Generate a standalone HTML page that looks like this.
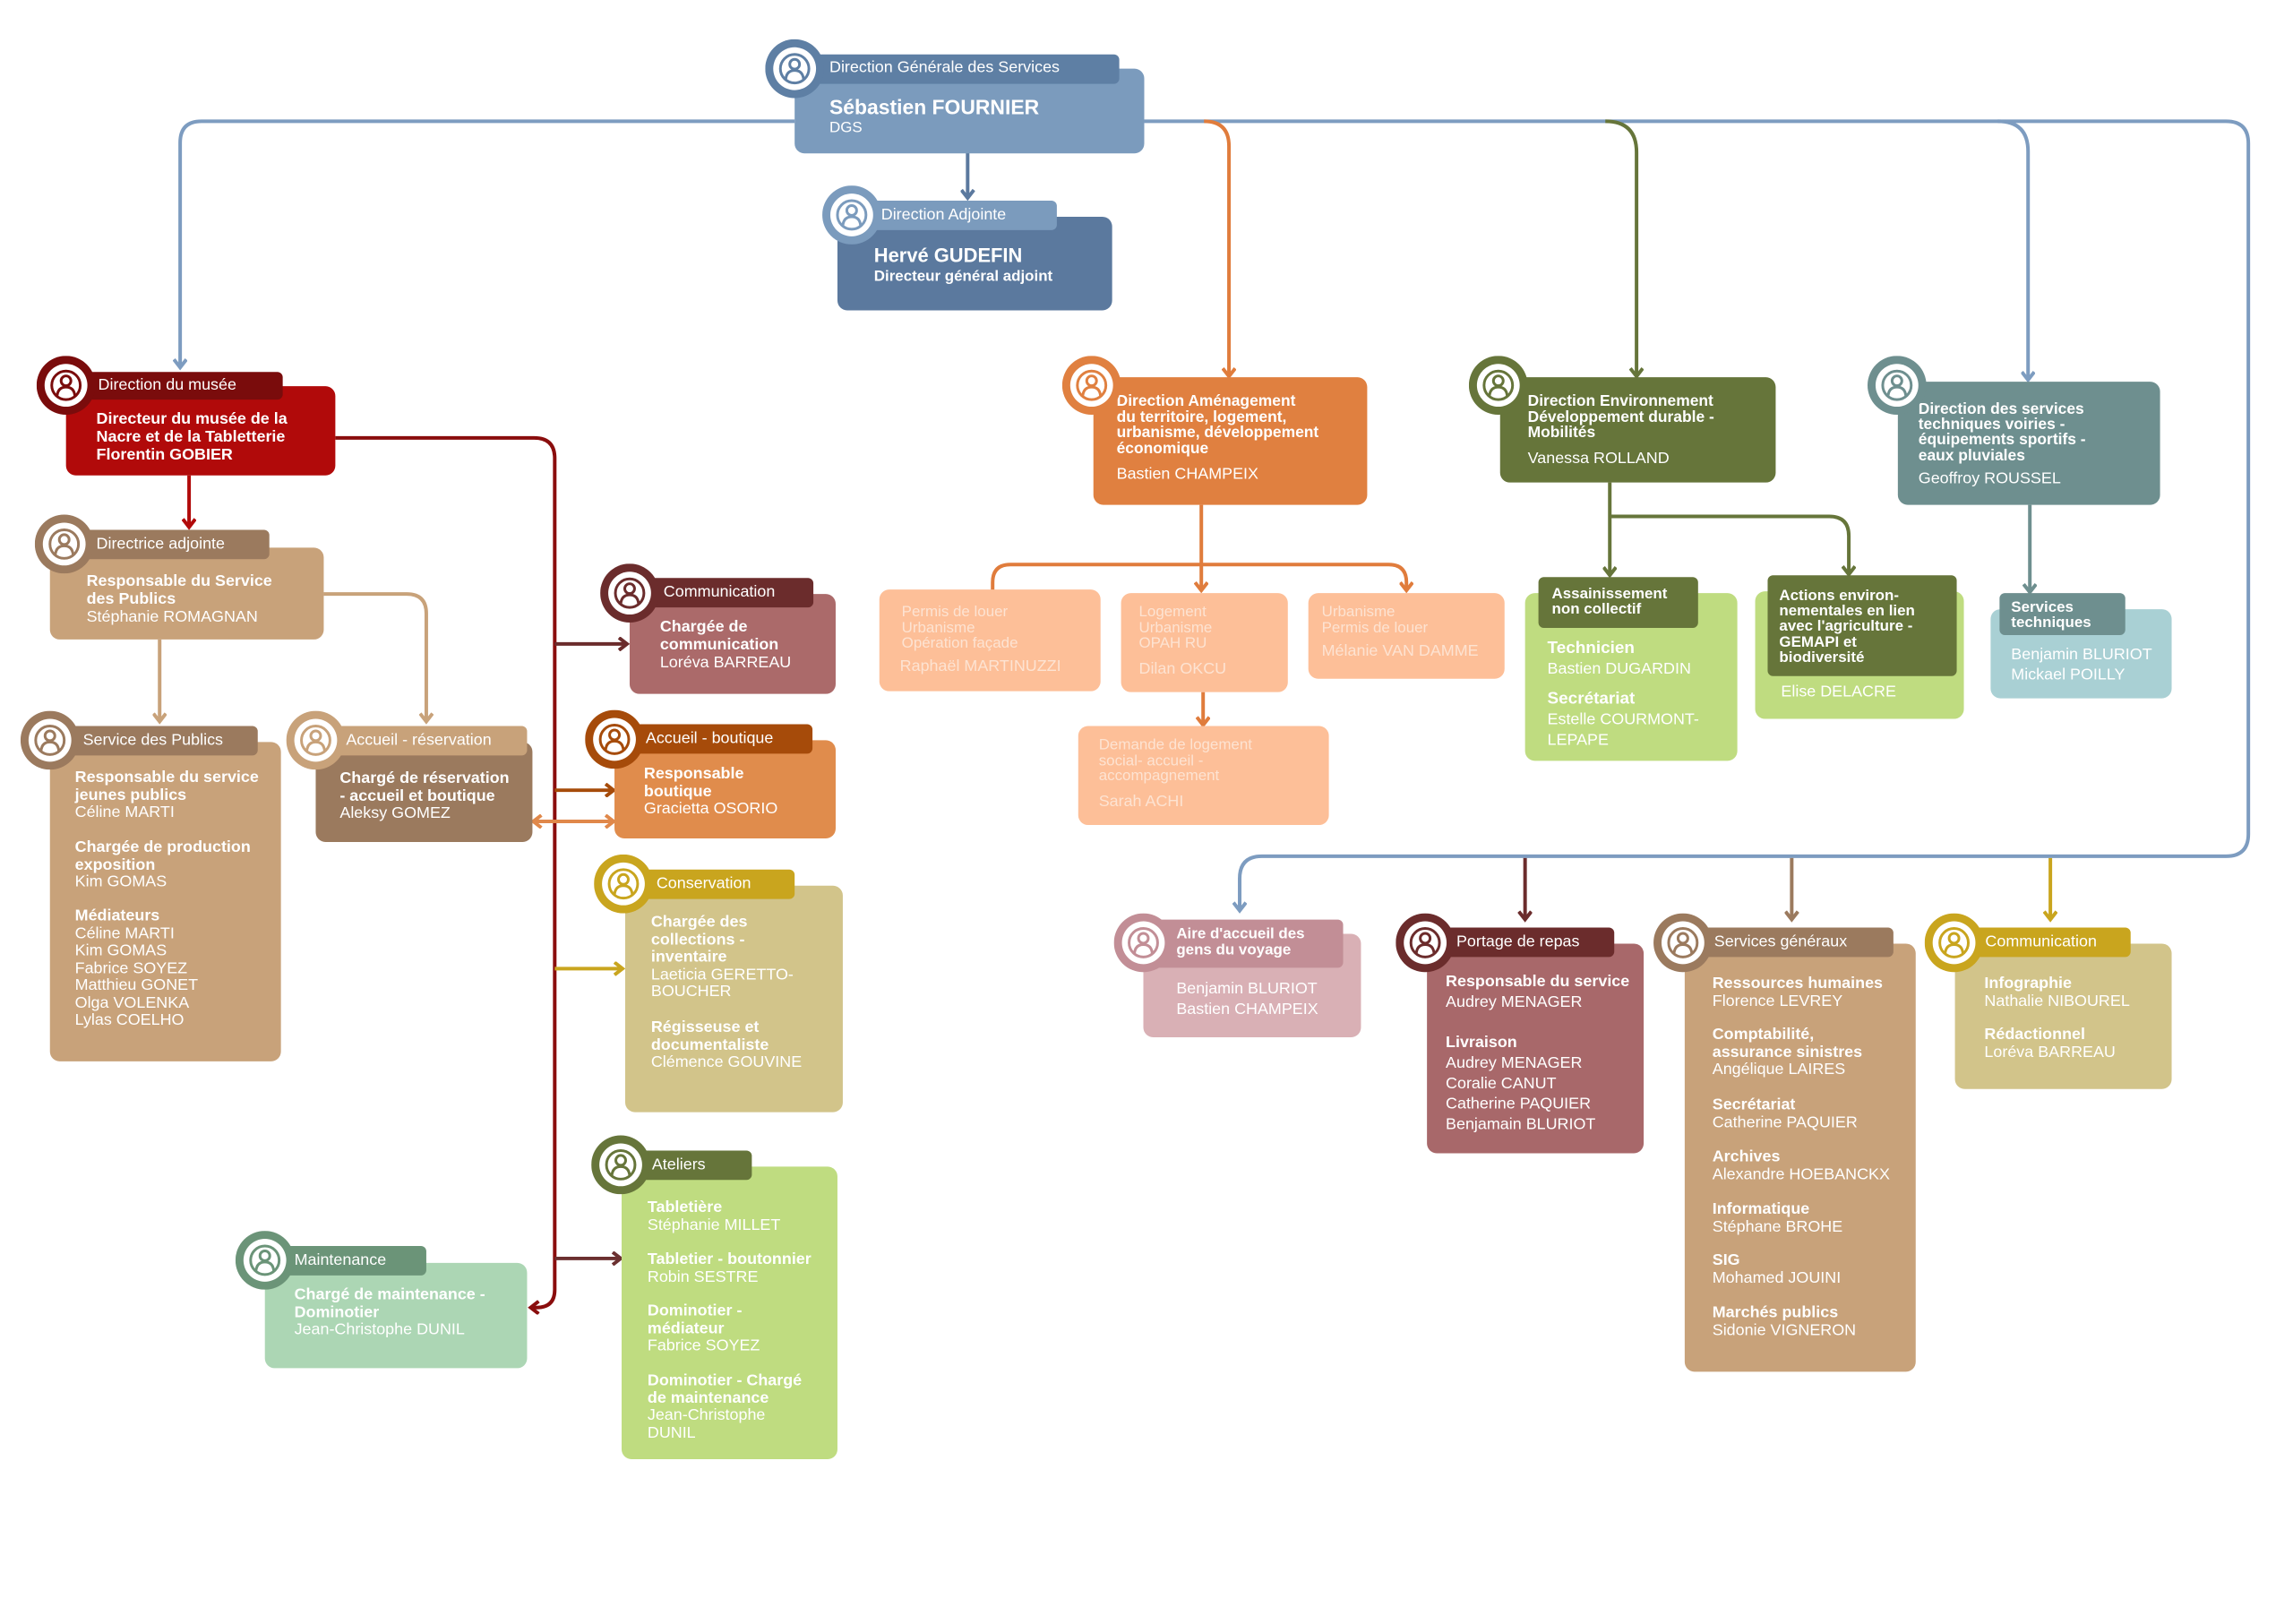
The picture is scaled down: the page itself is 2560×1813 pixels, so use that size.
<!DOCTYPE html>
<html><head><meta charset="utf-8"><style>
body{margin:0;background:#fff;}
#w{position:relative;width:2560px;height:1813px;overflow:hidden;background:#fff;font-family:"Liberation Sans",sans-serif;}
#in{position:absolute;left:0;top:0;width:2560px;height:1813px;transform:scale(0.9957);transform-origin:0 0;}
.b{position:absolute;border-radius:11px;z-index:1;}
.t{position:absolute;z-index:3;color:#fff;font-size:18px;line-height:19px;white-space:nowrap;}
.t b{font-weight:bold;}
.pe{color:#fde3d2;}
svg{position:absolute;left:0;top:0;}
</style></head><body><div id="w"><div id="in">
<svg width="2560" height="1813" style="z-index:0">
<defs>
<marker id="mB" markerWidth="16" markerHeight="16" refX="12" refY="8" orient="auto-start-reverse" markerUnits="userSpaceOnUse"><path d="M3,1 L12,8 L3,15" fill="none" stroke="#7d9cc0" stroke-width="4"/></marker>
<marker id="mDB" markerWidth="16" markerHeight="16" refX="12" refY="8" orient="auto" markerUnits="userSpaceOnUse"><path d="M3,1 L12,8 L3,15" fill="none" stroke="#5b799e" stroke-width="4"/></marker>
<marker id="mR" markerWidth="16" markerHeight="16" refX="12" refY="8" orient="auto" markerUnits="userSpaceOnUse"><path d="M3,1 L12,8 L3,15" fill="none" stroke="#b10a0a" stroke-width="4"/></marker>
<marker id="mDR" markerWidth="16" markerHeight="16" refX="12" refY="8" orient="auto" markerUnits="userSpaceOnUse"><path d="M3,1 L12,8 L3,15" fill="none" stroke="#8a0d0d" stroke-width="4"/></marker>
<marker id="mT" markerWidth="16" markerHeight="16" refX="12" refY="8" orient="auto" markerUnits="userSpaceOnUse"><path d="M3,1 L12,8 L3,15" fill="none" stroke="#c8a27a" stroke-width="4"/></marker>
<marker id="mM" markerWidth="16" markerHeight="16" refX="12" refY="8" orient="auto" markerUnits="userSpaceOnUse"><path d="M3,1 L12,8 L3,15" fill="none" stroke="#6b2c2c" stroke-width="4"/></marker>
<marker id="mBr" markerWidth="16" markerHeight="16" refX="12" refY="8" orient="auto" markerUnits="userSpaceOnUse"><path d="M3,1 L12,8 L3,15" fill="none" stroke="#a64b0a" stroke-width="4"/></marker>
<marker id="mO" markerWidth="16" markerHeight="16" refX="12" refY="8" orient="auto-start-reverse" markerUnits="userSpaceOnUse"><path d="M3,1 L12,8 L3,15" fill="none" stroke="#e0884a" stroke-width="4"/></marker>
<marker id="mA" markerWidth="16" markerHeight="16" refX="12" refY="8" orient="auto" markerUnits="userSpaceOnUse"><path d="M3,1 L12,8 L3,15" fill="none" stroke="#e07c3c" stroke-width="4"/></marker>
<marker id="mG" markerWidth="16" markerHeight="16" refX="12" refY="8" orient="auto" markerUnits="userSpaceOnUse"><path d="M3,1 L12,8 L3,15" fill="none" stroke="#c9a51e" stroke-width="4"/></marker>
<marker id="mV" markerWidth="16" markerHeight="16" refX="12" refY="8" orient="auto" markerUnits="userSpaceOnUse"><path d="M3,1 L12,8 L3,15" fill="none" stroke="#66753a" stroke-width="4"/></marker>
<marker id="mTe" markerWidth="16" markerHeight="16" refX="12" refY="8" orient="auto" markerUnits="userSpaceOnUse"><path d="M3,1 L12,8 L3,15" fill="none" stroke="#6e8f8f" stroke-width="4"/></marker>
<marker id="mS" markerWidth="16" markerHeight="16" refX="12" refY="8" orient="auto" markerUnits="userSpaceOnUse"><path d="M3,1 L12,8 L3,15" fill="none" stroke="#9b7a5e" stroke-width="4"/></marker>
<marker id="mM2" markerWidth="16" markerHeight="16" refX="12" refY="8" orient="auto" markerUnits="userSpaceOnUse"><path d="M3,1 L12,8 L3,15" fill="none" stroke="#6b3030" stroke-width="4"/></marker>
</defs>
<g fill="none" stroke-width="4">
<path d="M891 136 H226 Q202 136 202 160 V412" stroke="#7d9cc0" marker-end="url(#mB)"/>
<path d="M1283 136 H2496 Q2521 136 2521 161 V935 Q2521 960 2496 960 H1415 Q1390 960 1390 985 V1021" stroke="#7d9cc0" marker-end="url(#mB)"/>
<path d="M2240 136 Q2274 136 2274 170 V426" stroke="#7d9cc0" marker-end="url(#mB)"/>
<path d="M1350 136 Q1378 136 1378 164 V422" stroke="#e07c3c" marker-end="url(#mA)"/>
<path d="M1800 136 Q1835 136 1835 171 V422" stroke="#66753a" marker-end="url(#mV)"/>
<path d="M1085 164 V222" stroke="#5b799e" marker-end="url(#mDB)"/>
<path d="M1710 962 V1031" stroke="#6b2c2c" marker-end="url(#mM)"/>
<path d="M2009 962 V1031" stroke="#9b7a5e" marker-end="url(#mS)"/>
<path d="M2299 962 V1031" stroke="#c9a51e" marker-end="url(#mG)"/>
<path d="M376 491 H599 Q622 491 622 514 V1446 Q622 1466 602 1466 H595" stroke="#8a0d0d" marker-end="url(#mDR)"/>
<path d="M622 722 H703" stroke="#6b2c2c" marker-end="url(#mM)"/>
<path d="M622 886 H688" stroke="#a64b0a" marker-end="url(#mBr)"/>
<path d="M598 921 H688" stroke="#e0884a" marker-start="url(#mO)" marker-end="url(#mO)"/>
<path d="M622 1086 H698" stroke="#c9a51e" marker-end="url(#mG)"/>
<path d="M622 1411 H696" stroke="#6b3030" marker-end="url(#mM2)"/>
<path d="M212 533 V591" stroke="#b10a0a" marker-end="url(#mR)"/>
<path d="M179 717 V809" stroke="#c8a27a" marker-end="url(#mT)"/>
<path d="M363 666 H456 Q478 666 478 688 V809" stroke="#c8a27a" marker-end="url(#mT)"/>
<path d="M1347 566 V662" stroke="#e07c3c" marker-end="url(#mA)"/>
<path d="M1113 662 V653 Q1113 633 1133 633 H1557 Q1577 633 1577 653 V662" stroke="#e07c3c" marker-end="url(#mA)"/>
<path d="M1349 776 V813" stroke="#e07c3c" marker-end="url(#mA)"/>
<path d="M1805 541 V645" stroke="#66753a" marker-end="url(#mV)"/>
<path d="M1805 579 H2051 Q2073 579 2073 601 V644" stroke="#66753a" marker-end="url(#mV)"/>
<path d="M2276 566 V664" stroke="#6e8f8f" marker-end="url(#mTe)"/>
</g>
</svg>

<!-- DGS -->
<div class="b" style="left:891px;top:77px;width:392px;height:95px;background:#7b9bbd"></div>
<div class="b" style="left:899px;top:61px;width:356px;height:33px;background:#5e7fa4;border-radius:6px;z-index:2"></div>
<div class="t" style="left:930px;top:66px;font-size:18px">Direction Générale des Services</div>
<div class="t" style="left:930px;top:107px;font-size:23px;line-height:26px;font-weight:bold">Sébastien FOURNIER</div>
<div class="t" style="left:930px;top:133px;font-size:17px">DGS</div>
<!-- Adjointe -->
<div class="b" style="left:939px;top:243px;width:308px;height:105px;background:#5b799e"></div>
<div class="b" style="left:965px;top:225px;width:220px;height:33px;background:#7b9bbd;border-radius:6px;z-index:2"></div>
<div class="t" style="left:988px;top:231px">Direction Adjointe</div>
<div class="t" style="left:980px;top:274px;font-size:22px;line-height:26px;font-weight:bold">Hervé GUDEFIN</div>
<div class="t" style="left:980px;top:300px;font-size:17px;font-weight:bold">Directeur général adjoint</div>

<!-- Musee -->
<div class="b" style="left:74px;top:433px;width:302px;height:100px;background:#b10a0a"></div>
<div class="b" style="left:90px;top:417px;width:227px;height:31px;background:#7a0c0c;border-radius:6px;z-index:2"></div>
<div class="t" style="left:110px;top:422px">Direction du musée</div>
<div class="t" style="left:108px;top:459px;line-height:20px;font-weight:bold">Directeur du musée de la<br>Nacre et de la Tabletterie<br>Florentin GOBIER</div>

<!-- Directrice -->
<div class="b" style="left:56px;top:614px;width:307px;height:103px;background:#c8a27a"></div>
<div class="b" style="left:90px;top:594px;width:212px;height:33px;background:#9b7a5e;border-radius:6px;z-index:2"></div>
<div class="t" style="left:108px;top:600px">Directrice adjointe</div>
<div class="t" style="left:97px;top:641px;line-height:20px"><b>Responsable du Service<br>des Publics</b><br>Stéphanie ROMAGNAN</div>

<!-- Service des Publics -->
<div class="b" style="left:56px;top:832px;width:259px;height:358px;background:#c8a27a"></div>
<div class="b" style="left:69px;top:814px;width:220px;height:33px;background:#9b7a5e;border-radius:6px;z-index:2"></div>
<div class="t" style="left:93px;top:820px">Service des Publics</div>
<div class="t" style="left:84px;top:862px;line-height:19.5px"><b>Responsable du service<br>jeunes publics</b><br>Céline MARTI</div>
<div class="t" style="left:84px;top:940px;line-height:19.5px"><b>Chargée de production<br>exposition</b><br>Kim GOMAS</div>
<div class="t" style="left:84px;top:1017px;line-height:19.5px"><b>Médiateurs</b><br>Céline MARTI<br>Kim GOMAS<br>Fabrice SOYEZ<br>Matthieu GONET<br>Olga VOLENKA<br>Lylas COELHO</div>

<!-- Accueil reservation -->
<div class="b" style="left:354px;top:832px;width:243px;height:112px;background:#9b7a5e"></div>
<div class="b" style="left:364px;top:814px;width:227px;height:33px;background:#c8a27a;border-radius:6px;z-index:2"></div>
<div class="t" style="left:388px;top:820px">Accueil - réservation</div>
<div class="t" style="left:381px;top:863px;line-height:19.5px"><b>Chargé de réservation<br>- accueil et boutique</b><br>Aleksy GOMEZ</div>

<!-- Communication musee -->
<div class="b" style="left:706px;top:666px;width:231px;height:112px;background:#ab6a6a"></div>
<div class="b" style="left:719px;top:648px;width:193px;height:33px;background:#6b2c2c;border-radius:6px;z-index:2"></div>
<div class="t" style="left:744px;top:654px">Communication</div>
<div class="t" style="left:740px;top:692px;line-height:20px"><b>Chargée de<br>communication</b><br>Loréva BARREAU</div>

<!-- Accueil boutique -->
<div class="b" style="left:689px;top:830px;width:248px;height:110px;background:#e08c4c"></div>
<div class="b" style="left:702px;top:812px;width:209px;height:33px;background:#a64b0a;border-radius:6px;z-index:2"></div>
<div class="t" style="left:724px;top:818px">Accueil - boutique</div>
<div class="t" style="left:722px;top:858px;line-height:19.5px"><b>Responsable<br>boutique</b><br>Gracietta OSORIO</div>

<!-- Conservation -->
<div class="b" style="left:701px;top:993px;width:244px;height:254px;background:#d2c48a"></div>
<div class="b" style="left:712px;top:975px;width:179px;height:33px;background:#c9a51e;border-radius:6px;z-index:2"></div>
<div class="t" style="left:736px;top:981px">Conservation</div>
<div class="t" style="left:730px;top:1024px;line-height:19.5px"><b>Chargée des<br>collections -<br>inventaire</b><br>Laeticia GERETTO-<br>BOUCHER</div>
<div class="t" style="left:730px;top:1142px;line-height:19.5px"><b>Régisseuse et<br>documentaliste</b><br>Clémence GOUVINE</div>

<!-- Ateliers -->
<div class="b" style="left:697px;top:1308px;width:242px;height:328px;background:#bfdc80"></div>
<div class="b" style="left:709px;top:1290px;width:134px;height:33px;background:#66753a;border-radius:6px;z-index:2"></div>
<div class="t" style="left:731px;top:1296px">Ateliers</div>
<div class="t" style="left:726px;top:1344px;line-height:19.5px"><b>Tabletière</b><br>Stéphanie MILLET</div>
<div class="t" style="left:726px;top:1402px;line-height:19.5px"><b>Tabletier - boutonnier</b><br>Robin SESTRE</div>
<div class="t" style="left:726px;top:1460px;line-height:19.5px"><b>Dominotier -<br>médiateur</b><br>Fabrice SOYEZ</div>
<div class="t" style="left:726px;top:1538px;line-height:19.5px"><b>Dominotier - Chargé<br>de maintenance</b><br>Jean-Christophe<br>DUNIL</div>

<!-- Maintenance -->
<div class="b" style="left:297px;top:1416px;width:294px;height:118px;background:#acd6b4"></div>
<div class="b" style="left:308px;top:1397px;width:170px;height:33px;background:#6b9478;border-radius:6px;z-index:2"></div>
<div class="t" style="left:330px;top:1403px">Maintenance</div>
<div class="t" style="left:330px;top:1442px;line-height:19.5px"><b>Chargé de maintenance -<br>Dominotier</b><br>Jean-Christophe DUNIL</div>

<!-- Amenagement -->
<div class="b" style="left:1226px;top:423px;width:307px;height:143px;background:#e08040"></div>
<div class="t" style="left:1252px;top:441px;line-height:17.5px;font-size:17.5px;font-weight:bold">Direction Aménagement<br>du territoire, logement,<br>urbanisme, développement<br>économique</div>
<div class="t" style="left:1252px;top:522px">Bastien CHAMPEIX</div>

<div class="b" style="left:986px;top:661px;width:248px;height:114px;background:#fdbf98"></div>
<div class="t pe" style="left:1011px;top:677px;font-size:17px;line-height:17.5px">Permis de louer<br>Urbanisme<br>Opération façade</div>
<div class="t pe" style="left:1009px;top:737px">Raphaël MARTINUZZI</div>
<div class="b" style="left:1257px;top:665px;width:187px;height:111px;background:#fdbf98"></div>
<div class="t pe" style="left:1277px;top:677px;font-size:17px;line-height:17.5px">Logement<br>Urbanisme<br>OPAH RU</div>
<div class="t pe" style="left:1277px;top:740px">Dilan OKCU</div>
<div class="b" style="left:1467px;top:665px;width:220px;height:96px;background:#fdbf98"></div>
<div class="t pe" style="left:1482px;top:677px;font-size:17px;line-height:17.5px">Urbanisme<br>Permis de louer</div>
<div class="t pe" style="left:1482px;top:720px">Mélanie VAN DAMME</div>
<div class="b" style="left:1209px;top:814px;width:281px;height:111px;background:#fdbf98"></div>
<div class="t pe" style="left:1232px;top:826px;font-size:17px;line-height:17.5px">Demande de logement<br>social- accueil -<br>accompagnement</div>
<div class="t pe" style="left:1232px;top:889px">Sarah ACHI</div>

<!-- Environnement -->
<div class="b" style="left:1682px;top:423px;width:309px;height:118px;background:#66753a"></div>
<div class="t" style="left:1713px;top:441px;font-size:17.5px;line-height:17.5px;font-weight:bold">Direction Environnement<br>Développement durable -<br>Mobilités</div>
<div class="t" style="left:1713px;top:504px">Vanessa ROLLAND</div>
<div class="b" style="left:1710px;top:665px;width:238px;height:188px;background:#bfdc80"></div>
<div class="b" style="left:1725px;top:647px;width:179px;height:57px;background:#66753a;border-radius:6px;z-index:2"></div>
<div class="t" style="left:1740px;top:657px;font-size:17px;line-height:17px;font-weight:bold">Assainissement<br>non collectif</div>
<div class="t" style="left:1735px;top:715px;line-height:23px"><b style="font-size:19px">Technicien</b><br>Bastien DUGARDIN</div>
<div class="t" style="left:1735px;top:772px;line-height:23px"><b style="font-size:19px">Secrétariat</b><br>Estelle COURMONT-<br>LEPAPE</div>
<div class="b" style="left:1968px;top:663px;width:234px;height:143px;background:#bfdc80"></div>
<div class="b" style="left:1982px;top:645px;width:212px;height:113px;background:#66753a;border-radius:6px;z-index:2"></div>
<div class="t" style="left:1995px;top:659px;font-size:17px;line-height:17.2px;font-weight:bold">Actions environ-<br>nementales en lien<br>avec l'agriculture -<br>GEMAPI et<br>biodiversité</div>
<div class="t" style="left:1997px;top:766px">Elise DELACRE</div>

<!-- Tech -->
<div class="b" style="left:2128px;top:428px;width:294px;height:138px;background:#6e8f8f"></div>
<div class="t" style="left:2151px;top:450px;font-size:17.5px;line-height:17.2px;font-weight:bold">Direction des services<br>techniques voiries -<br>équipements sportifs -<br>eaux pluviales</div>
<div class="t" style="left:2151px;top:527px">Geoffroy ROUSSEL</div>
<div class="b" style="left:2232px;top:683px;width:203px;height:100px;background:#a9d0d4"></div>
<div class="b" style="left:2242px;top:665px;width:141px;height:47px;background:#6e8f8f;border-radius:6px;z-index:2"></div>
<div class="t" style="left:2255px;top:672px;font-size:17px;line-height:17px;font-weight:bold">Services<br>techniques</div>
<div class="t" style="left:2255px;top:722px;line-height:23px">Benjamin BLURIOT<br>Mickael POILLY</div>

<!-- Aire -->
<div class="b" style="left:1282px;top:1047px;width:244px;height:116px;background:#d9b0b5"></div>
<div class="b" style="left:1293px;top:1031px;width:213px;height:54px;background:#c28e96;border-radius:6px;z-index:2"></div>
<div class="t" style="left:1319px;top:1038px;font-size:17px;line-height:18px;font-weight:bold">Aire d'accueil des<br>gens du voyage</div>
<div class="t" style="left:1319px;top:1097px;line-height:23px">Benjamin BLURIOT<br>Bastien CHAMPEIX</div>

<!-- Portage -->
<div class="b" style="left:1600px;top:1058px;width:243px;height:235px;background:#a8686a"></div>
<div class="b" style="left:1611px;top:1040px;width:199px;height:33px;background:#6b2c2c;border-radius:6px;z-index:2"></div>
<div class="t" style="left:1633px;top:1046px">Portage de repas</div>
<div class="t" style="left:1621px;top:1089px;line-height:23px"><b>Responsable du service</b><br>Audrey MENAGER</div>
<div class="t" style="left:1621px;top:1157px;line-height:23px"><b>Livraison</b><br>Audrey MENAGER<br>Coralie CANUT<br>Catherine PAQUIER<br>Benjamain BLURIOT</div>

<!-- Services generaux -->
<div class="b" style="left:1889px;top:1058px;width:259px;height:480px;background:#c8a27a"></div>
<div class="b" style="left:1900px;top:1040px;width:223px;height:33px;background:#9b7a5e;border-radius:6px;z-index:2"></div>
<div class="t" style="left:1922px;top:1046px">Services généraux</div>
<div class="t" style="left:1920px;top:1093px;line-height:19.5px"><b>Ressources humaines</b><br>Florence LEVREY</div>
<div class="t" style="left:1920px;top:1150px;line-height:19.5px"><b>Comptabilité,<br>assurance sinistres</b><br>Angélique LAIRES</div>
<div class="t" style="left:1920px;top:1229px;line-height:19.5px"><b>Secrétariat</b><br>Catherine PAQUIER</div>
<div class="t" style="left:1920px;top:1287px;line-height:19.5px"><b>Archives</b><br>Alexandre HOEBANCKX</div>
<div class="t" style="left:1920px;top:1346px;line-height:19.5px"><b>Informatique</b><br>Stéphane BROHE</div>
<div class="t" style="left:1920px;top:1403px;line-height:19.5px"><b>SIG</b><br>Mohamed JOUINI</div>
<div class="t" style="left:1920px;top:1462px;line-height:19.5px"><b>Marchés publics</b><br>Sidonie VIGNERON</div>

<!-- Communication bottom -->
<div class="b" style="left:2192px;top:1058px;width:243px;height:163px;background:#d2c48a"></div>
<div class="b" style="left:2204px;top:1040px;width:185px;height:33px;background:#c9a51e;border-radius:6px;z-index:2"></div>
<div class="t" style="left:2226px;top:1046px">Communication</div>
<div class="t" style="left:2225px;top:1093px;line-height:19.5px"><b>Infographie</b><br>Nathalie NIBOUREL</div>
<div class="t" style="left:2225px;top:1150px;line-height:19.5px"><b>Rédactionnel</b><br>Loréva BARREAU</div>

<svg width="2560" height="1813" style="z-index:4;pointer-events:none">
<defs><symbol id="p" viewBox="-33 -33 66 66">
<circle r="33" fill="currentColor"/><circle r="24" fill="#fff"/>
<circle r="16" fill="none" stroke="currentColor" stroke-width="3"/>
<circle cy="-5" r="5.5" fill="none" stroke="currentColor" stroke-width="3"/>
<path d="M-10 12 Q-9 2 0 2 Q9 2 10 12" fill="none" stroke="currentColor" stroke-width="3"/>
</symbol></defs>
<use href="#p" x="858" y="44" width="66" height="66" style="color:#5e7fa4"/>
<use href="#p" x="922" y="208" width="66" height="66" style="color:#7b9bbd"/>
<use href="#p" x="41" y="399" width="66" height="66" style="color:#7a0c0c"/>
<use href="#p" x="39" y="577" width="66" height="66" style="color:#9b7a5e"/>
<use href="#p" x="23" y="797" width="66" height="66" style="color:#9b7a5e"/>
<use href="#p" x="321" y="797" width="66" height="66" style="color:#c8a27a"/>
<use href="#p" x="673" y="632" width="66" height="66" style="color:#6b2c2c"/>
<use href="#p" x="656" y="796" width="66" height="66" style="color:#a64b0a"/>
<use href="#p" x="666" y="958" width="66" height="66" style="color:#c9a51e"/>
<use href="#p" x="663" y="1273" width="66" height="66" style="color:#66753a"/>
<use href="#p" x="264" y="1380" width="66" height="66" style="color:#6b9478"/>
<use href="#p" x="1191" y="399" width="66" height="66" style="color:#e08040"/>
<use href="#p" x="1647" y="399" width="66" height="66" style="color:#66753a"/>
<use href="#p" x="2094" y="399" width="66" height="66" style="color:#6e8f8f"/>
<use href="#p" x="1249" y="1024" width="66" height="66" style="color:#c28e96"/>
<use href="#p" x="1565" y="1024" width="66" height="66" style="color:#6b2c2c"/>
<use href="#p" x="1854" y="1024" width="66" height="66" style="color:#9b7a5e"/>
<use href="#p" x="2158" y="1024" width="66" height="66" style="color:#c9a51e"/>
</svg>
</div></div></body></html>
